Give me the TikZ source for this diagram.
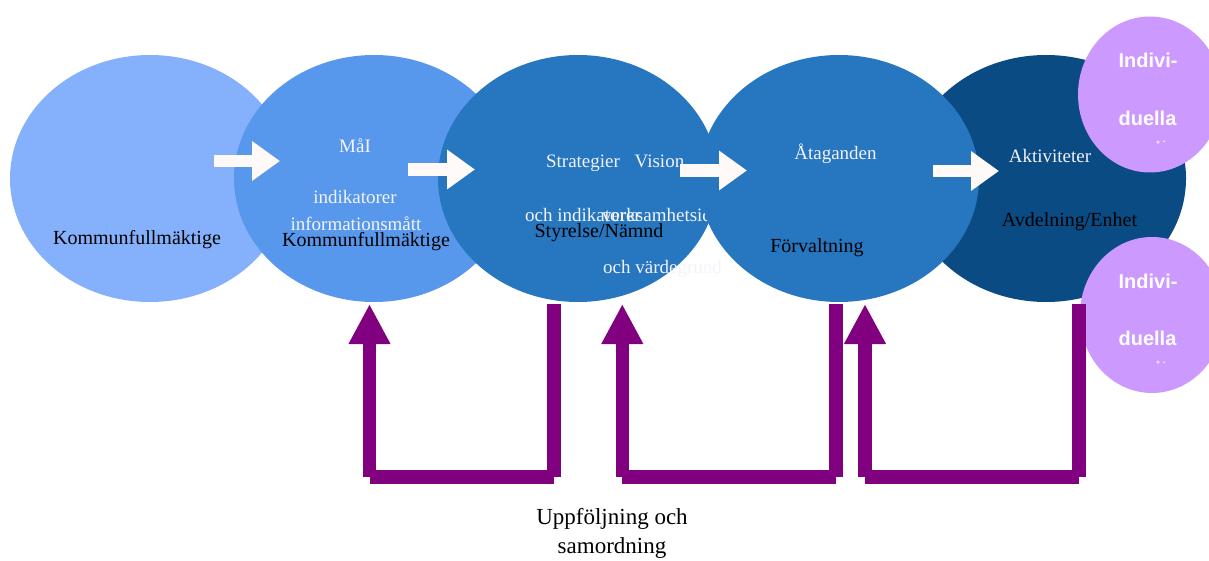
\documentclass[tikz,border=0pt]{standalone}
\usepackage{fontspec}
\setmainfont{Liberation Serif}
\newfontfamily\indfont{Liberation Sans}
\usetikzlibrary{shapes.geometric,arrows.meta}

\definecolor{kfblue}{HTML}{85B1FC}
\definecolor{malblue}{HTML}{5898EC}
\definecolor{midblue}{HTML}{2776C0}
\definecolor{darkblue}{HTML}{0A4B84}
\definecolor{indpurple}{HTML}{CC99FF}
\definecolor{looppurple}{HTML}{800080}
\definecolor{arrowwhite}{HTML}{FFF9F7}
\definecolor{paletext}{HTML}{F3F3FA}

\begin{document}
\begin{tikzpicture}[x=1pt,y=-1pt,
    blob/.style={ellipse, minimum width=280pt, minimum height=247pt, inner sep=0pt},
    indblob/.style={ellipse, fill=indpurple, minimum width=144pt, minimum height=156pt, inner sep=0pt},
    dark/.style={font=\fontsize{20}{24}\selectfont, text=black, anchor=base, inner sep=0pt},
    pale/.style={font=\fontsize{19}{23}\selectfont, text=paletext, anchor=base, inner sep=0pt},
    ind/.style={font=\indfont\bfseries\fontsize{20}{24}\selectfont, text=white, anchor=base, inner sep=0pt},
    indmark/.style={ind, font=\indfont\bfseries\fontsize{9}{9}\selectfont},
    flow/.style={draw=arrowwhite, line width=12.5pt, -{Triangle[length=28pt,width=38pt]}},
    loopbar/.style={draw=looppurple, line width=13.5pt},
    loophead/.style={loopbar, -{Triangle[length=40pt,width=39pt]}}]
  \useasboundingbox (0,0) rectangle (1209,561);

  % Kommunfullmaktige
  \node[blob, fill=kfblue] (kf) at (150,178.5) {};
  \node[dark] (kf-t) at (137,245) {Kommunfullmäktige};

  % Mal
  \node[blob, fill=malblue] (mal) at (374,178.5) {};
  \node[pale] (mal-t) at (355,153) {MåI};
  \node[pale] (mal-ind) at (355,204) {indikatorer};
  \node[pale] (mal-inf) at (356,231) {informationsmått};
  \node[dark] (mal-kf) at (366,247) {Kommunfullmäktige};

  % Strategier / Vision
  \node[blob, fill=midblue] (str) at (578,178.5) {};
  \node[pale] (str-t) at (583,168) {Strategier};
  \node[pale] (vis-t) at (659.5,168) {Vision};
  \node[pale] (str-ind) at (583,222) {och indikatorer};
  \node[pale, anchor=base west] (vis-vh) at (602,222) {verksamhetsidé};
  \node[dark] (str-sn) at (599,237) {Styrelse/Nämnd};
  \node[pale, anchor=base west] (vis-vg) at (603,273) {och värdegrund};

  % Aktiviteter (behind Ataganden)
  \node[blob, fill=darkblue] (akt) at (1046,178.5) {};

  % Ataganden
  \node[blob, fill=midblue] (ata) at (839,178.5) {};
  \node[pale] (ata-t) at (835.5,160) {Åtaganden};
  \node[dark] (ata-f) at (817,253) {Förvaltning};

  \node[pale] (akt-t) at (1050,163) {Aktiviteter};
  \node[dark] (akt-ae) at (1069.5,227) {Avdelning/Enhet};

  % individuella
  \node[indblob] (ind1) at (1150,94.5) {};
  \node[ind] (ind1-a) at (1148,68) {Indivi-};
  \node[ind] (ind1-b) at (1147.5,126) {duella};
  \node[indmark] (ind1-c) at (1161,143) {\raisebox{-4.5pt}{°}\hspace{3pt}.};
  \node[indblob] (ind2) at (1152,315) {};
  \node[ind] (ind2-a) at (1148,288) {Indivi-};
  \node[ind] (ind2-b) at (1147.5,345) {duella};
  \node[indmark] (ind2-c) at (1161,363) {\raisebox{-4.5pt}{°}\hspace{3pt}.};

  % white arrows
  \coordinate (f1a) at (214,161);   \coordinate (f1b) at (280,161);
  \coordinate (f2a) at (408,169.5); \coordinate (f2b) at (475,169.5);
  \coordinate (f3a) at (680,170.5); \coordinate (f3b) at (747,170.5);
  \coordinate (f4a) at (933,171);   \coordinate (f4b) at (999,171);
  \draw[flow] (f1a) -- (f1b);
  \draw[flow] (f2a) -- (f2b);
  \draw[flow] (f3a) -- (f3b);
  \draw[flow] (f4a) -- (f4b);

  % uppfoljning loops
  \coordinate (r1) at (554,304);    \coordinate (r1b) at (554,477);
  \coordinate (l1b) at (369.5,477); \coordinate (l1) at (369.5,304);
  \coordinate (r2) at (835.8,304);  \coordinate (r2b) at (835.8,477);
  \coordinate (l2b) at (622.3,477); \coordinate (l2) at (622.3,304);
  \coordinate (r3) at (1079,304);   \coordinate (r3b) at (1079,477);
  \coordinate (l3b) at (865,477);   \coordinate (l3) at (865,304);
  \draw[loopbar] (r1) -- (r1b);
  \draw[loopbar] (r1b) -- (l1b);
  \draw[loophead] (l1b) -- (l1);
  \draw[loopbar] (r2) -- (r2b);
  \draw[loopbar] (r2b) -- (l2b);
  \draw[loophead] (l2b) -- (l2);
  \draw[loopbar] (r3) -- (r3b);
  \draw[loopbar] (r3b) -- (l3b);
  \draw[loophead] (l3b) -- (l3);

  \node[dark, font=\fontsize{23}{29}\selectfont] (upp1) at (612,524) {Uppföljning och};
  \node[dark, font=\fontsize{23}{29}\selectfont] (upp2) at (612,553) {samordning};
\end{tikzpicture}
\end{document}
